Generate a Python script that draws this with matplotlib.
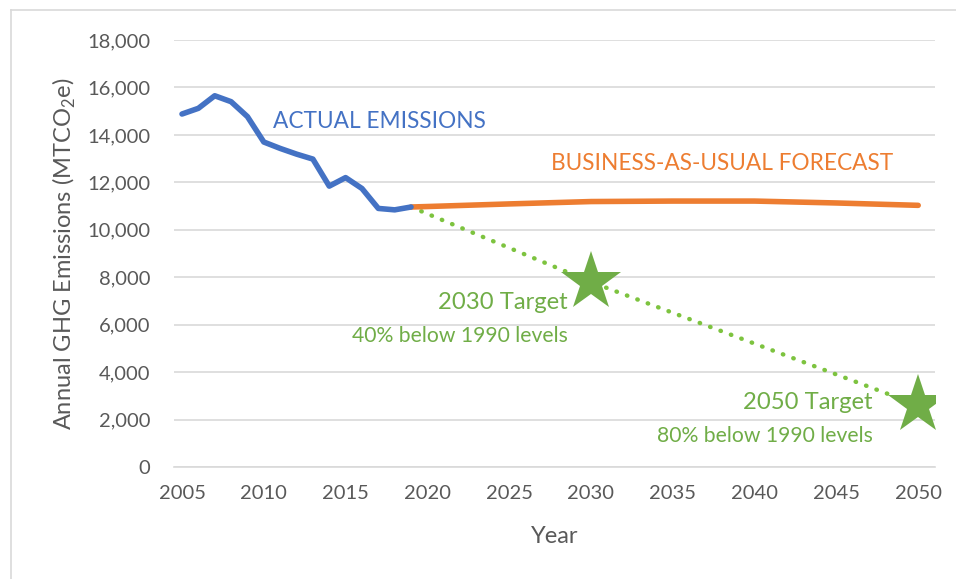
import matplotlib.pyplot as plt
from matplotlib.lines import Line2D

plt.rcParams['font.family'] = ['Lato', 'DejaVu Sans']
plt.rcParams['mathtext.fontset'] = 'custom'
plt.rcParams['mathtext.rm'] = 'Lato'

# data
actual_years = [2005, 2006, 2007, 2008, 2009, 2010, 2011, 2012, 2013, 2014,
                2015, 2016, 2017, 2018, 2019]
actual_vals = [14880, 15120, 15650, 15400, 14770, 13700, 13430, 13190, 12980,
               11840, 12200, 11740, 10900, 10840, 10960]

bau_years = [2019, 2020, 2025, 2030, 2035, 2040, 2045, 2050]
bau_vals = [10960, 10980, 11090, 11190, 11210, 11210, 11130, 11030]

target_years = [2019, 2030, 2050]
target_vals = [10960, 7800, 2600]

star_years = [2030, 2050]
star_vals = [7800, 2600]

blue = '#4472C4'
orange = '#ED7D31'
green = '#70AD47'
light_green = '#7DC33F'
grey_text = '#595959'

fig = plt.figure(figsize=(9.56, 5.79), dpi=100)
ax = fig.add_axes([174/956, 1 - 467/579, (935 - 174)/956, (467 - 40)/579])

ax.plot(target_years, target_vals, color=light_green, lw=3.2,
        linestyle=(0, (0.1, 2.4)), dash_capstyle='round', zorder=3)
ax.plot(bau_years, bau_vals, color=orange, lw=4.0, solid_capstyle='round', zorder=4)
ax.plot(actual_years, actual_vals, color=blue, lw=4.0, solid_joinstyle='round',
        solid_capstyle='round', zorder=5)
ax.plot(star_years, star_vals, linestyle='none', marker='*', markersize=45,
        color=green, markeredgewidth=0, zorder=6)

ax.text(2010.55, 14550, 'ACTUAL EMISSIONS', color=blue, fontsize=16.3,
        ha='left', va='center')
ax.text(2048.45, 12800, 'BUSINESS-AS-USUAL FORECAST', color=orange,
        fontsize=16.3, ha='right', va='center')
ax.text(2028.6, 6950, '2030 Target', color=green, fontsize=17.2,
        ha='right', va='center')
ax.text(2028.6, 5530, '40% below 1990 levels', color=green, fontsize=15.2,
        ha='right', va='center')
ax.text(2047.2, 2700, '2050 Target', color=green, fontsize=17.2,
        ha='right', va='center')
ax.text(2047.2, 1320, '80% below 1990 levels', color=green, fontsize=15.2,
        ha='right', va='center')

ax.set_xlim(2005 - 8/16.36, 2005 + (935 - 182)/16.36)
ax.set_ylim(0, 18000)
ax.set_xticks(range(2005, 2051, 5))
ax.set_yticks(range(0, 18001, 2000))
ax.yaxis.set_major_formatter(plt.FuncFormatter(lambda v, p: f'{int(v):,}'))
ax.tick_params(length=0, labelsize=14.5, colors=grey_text)
ax.tick_params(axis='y', pad=17)
ax.tick_params(axis='x', pad=13)
ax.grid(axis='y', color='#D9D9D9', lw=1.2)
ax.set_axisbelow(True)
for s in ['top', 'right', 'left']:
    ax.spines[s].set_visible(False)
ax.spines['bottom'].set_color('#D9D9D9')
ax.spines['bottom'].set_linewidth(1.2)

ax.set_xlabel('Year', fontsize=17, color=grey_text, labelpad=17)
ax.set_ylabel('Annual GHG Emissions (MTCO$_2$e)', fontsize=17, color=grey_text,
              labelpad=7)

# chart border (left and top edges visible)
fig.add_artist(Line2D([11/956, 11/956], [0, 1 - 10/579], color='#D9D9D9', lw=1.2,
                      transform=fig.transFigure))
fig.add_artist(Line2D([11/956, 1], [1 - 10/579, 1 - 10/579], color='#D9D9D9', lw=1.2,
                      transform=fig.transFigure))

fig.savefig('out.png', dpi=100)
